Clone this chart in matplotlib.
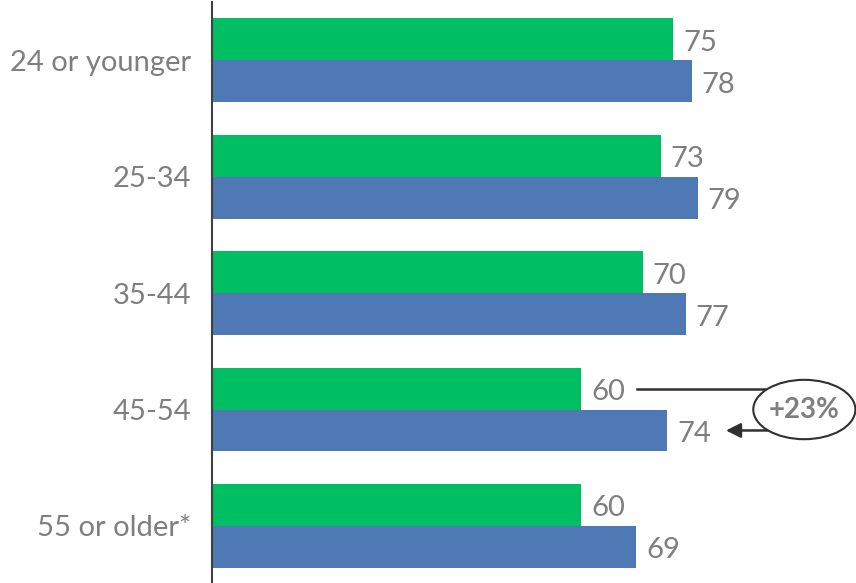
import matplotlib.pyplot as plt
from matplotlib.patches import Ellipse

plt.rcParams['font.family'] = ['Lato', 'DejaVu Sans']

groups = ['24 or younger', '25-34', '35-44', '45-54', '55 or older*']
green_vals = [75, 73, 70, 60, 60]
blue_vals = [78, 79, 77, 74, 69]

green = '#00BF63'
blue = '#4E79B5'
grey = '#7F7F7F'

fig = plt.figure(figsize=(8.56, 5.83), dpi=100)
ax = fig.add_axes([212 / 856, 0, 644 / 856, 581 / 583])

h = 0.36
ys = list(range(len(groups)))
ax.barh([y - h / 2 for y in ys], green_vals, height=h, color=green)
ax.barh([y + h / 2 for y in ys], blue_vals, height=h, color=blue)

# value labels sit a touch below the bar centre
dy = 0.03
for y, g, b in zip(ys, green_vals, blue_vals):
    ax.text(g + 1.6, y - h / 2 + dy, str(g), va='center', ha='left', fontsize=21, color=grey)
    ax.text(b + 1.6, y + h / 2 + dy, str(b), va='center', ha='left', fontsize=21, color=grey)

ax.set_xlim(0, 104.7)
ax.set_ylim(4.49, -0.5)
ax.set_yticks(ys)
ax.set_yticklabels(groups, fontsize=21, color=grey)
ax.tick_params(axis='y', length=0, pad=15)
ax.set_xticks([])
for side in ['top', 'right', 'bottom']:
    ax.spines[side].set_visible(False)
ax.spines['left'].set_color('#404040')
ax.spines['left'].set_linewidth(1.5)

# change callout between the two 45-54 bars
i = groups.index('45-54')
pct = round((blue_vals[i] / green_vals[i] - 1) * 100)
y_top = i - h / 2
y_bot = i + h / 2
ax.plot([green_vals[i] + 9.1, 95.5], [y_top, y_top], color='#303030', lw=1.8,
        clip_on=False, zorder=1)
ax.annotate('', xy=(blue_vals[i] + 9.1, y_bot), xytext=(95.5, y_bot),
            arrowprops=dict(arrowstyle='-|>', color='#303030', lw=1.8,
                            mutation_scale=22), annotation_clip=False)
ell = Ellipse((96.3, i), 16.6, 0.51, facecolor='white', edgecolor='#303030',
              lw=1.5, clip_on=False, zorder=3)
ax.add_patch(ell)
ax.text(96.3, i, f'+{pct}%', ha='center', va='center', fontsize=20,
        fontweight='bold', color=grey, zorder=4)

fig.savefig('out.png', dpi=100)
